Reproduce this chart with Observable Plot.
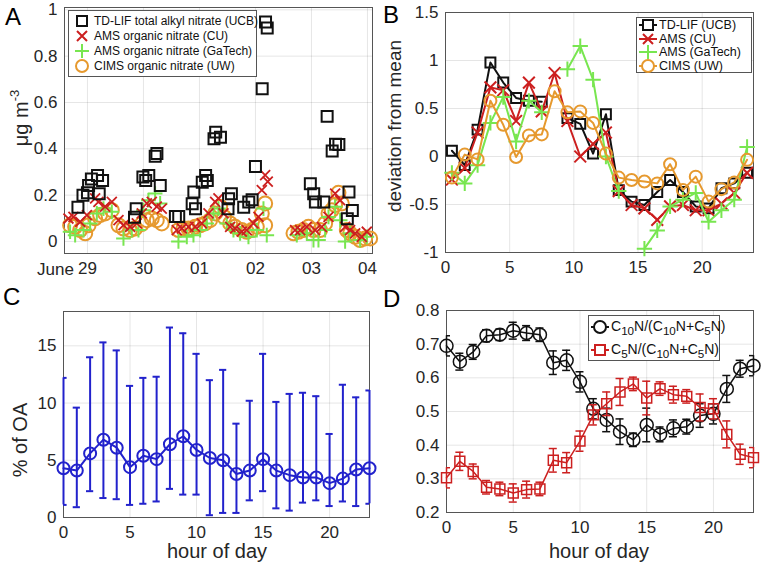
<!DOCTYPE html>
<html><head><meta charset="utf-8">
<script src="https://cdn.jsdelivr.net/npm/d3@7"></script>
<script src="https://cdn.jsdelivr.net/npm/@observablehq/plot@0.6"></script>
<style>
body{margin:0;background:#fff}
#fig{position:relative;width:762px;height:563px;font-family:"Liberation Sans",Arial,sans-serif;color:#262626;overflow:hidden;background:#fff}
.panel{position:absolute}
.txt{position:absolute;white-space:nowrap;line-height:1}
.rot{transform:translate(-50%,-50%) rotate(-90deg)}
.letter{font-size:24px;color:#000}
.leg{position:absolute;background:#fff;border:1px solid #555;box-sizing:border-box}
.leg .row{position:absolute;left:0;display:flex;align-items:center;white-space:nowrap;color:#111}
.leg svg{display:block}
</style></head>
<body><div id="fig"></div>
<script>
// ---------- Panel A: time series (days since June 29, 00:00) ----------
const dayTicks = [0,1,2,3,4,5];
const dayLabels = ["29","30","01","02","03","04"];
const tdlifT = [-0.17,-0.08,0.0,0.02,0.07,0.18,0.21,0.27,0.84,0.87,0.99,1.04,1.095,1.21,1.24,1.30,1.57,1.63,1.87,1.90,1.93,2.05,2.11,2.14,2.26,2.29,2.375,2.51,2.52,2.57,2.79,2.88,2.94,3.0,3.12,3.18,3.21,3.98,4.04,4.07,4.22,4.28,4.37,4.43,4.49,4.64,4.67,4.73];
const tdlifV = [0.148,0.199,0.21,0.242,0.27,0.285,0.206,0.263,0.105,0.141,0.278,0.263,0.285,0.368,0.38,0.242,0.108,0.108,0.163,0.213,0.141,0.256,0.285,0.263,0.443,0.472,0.45,0.141,0.184,0.206,0.148,0.17,0.18,0.324,0.659,0.947,0.922,0.249,0.206,0.17,0.17,0.54,0.39,0.42,0.419,0.098,0.213,0.134];
const amsCuT = [-0.34,-0.25,-0.13,-0.01,0.137,0.196,0.315,0.435,0.554,0.643,0.762,0.881,0.97,1.06,1.149,1.238,1.327,1.595,1.685,1.804,1.923,2.042,2.161,2.28,2.339,2.429,2.548,2.637,2.756,2.845,2.964,3.054,3.113,3.173,3.22,3.708,3.798,3.917,4.065,4.185,4.304,4.423,4.512,4.601,4.69,4.78,4.899,4.988];
const amsCuV = [0.099,0.106,0.085,0.114,0.186,0.171,0.15,0.171,0.092,0.07,0.063,0.078,0.121,0.164,0.171,0.15,0.142,0.049,0.056,0.063,0.063,0.078,0.121,0.171,0.186,0.121,0.063,0.056,0.042,0.049,0.078,0.106,0.222,0.286,0.258,0.049,0.049,0.063,0.049,0.063,0.106,0.207,0.178,0.063,0.049,0.035,0.02,0.042];
const amsGtT = [-0.31,-0.22,-0.07,0.048,0.167,0.286,0.435,0.643,0.792,0.911,1.0,1.089,1.208,1.298,1.625,1.774,1.893,2.012,2.131,2.25,2.339,2.488,2.607,2.726,2.875,3.024,3.143,3.202,3.738,3.917,4.036,4.125,4.244,4.304,4.423,4.512,4.601,4.69,4.869,4.988];
const amsGtV = [0.042,0.027,0.049,0.078,0.121,0.142,0.128,0.013,0.049,0.049,0.135,0.178,0.207,0.164,0.0,0.02,0.027,0.049,0.078,0.121,0.142,0.078,0.049,0.035,0.02,0.049,0.142,0.027,0.027,0.035,0.006,0.006,0.049,0.106,0.15,0.092,0.0,0.035,0.006,0.02];
const cimsT = [-0.31,-0.22,-0.13,-0.04,0.02,0.137,0.226,0.315,0.435,0.554,0.643,0.762,0.851,0.97,1.06,1.149,1.238,1.327,1.625,1.714,1.804,1.923,2.012,2.1,2.19,2.28,2.37,2.44,2.548,2.637,2.756,2.845,2.935,3.024,3.113,3.173,3.173,3.679,3.768,3.857,3.946,4.036,4.155,4.244,4.304,4.363,4.423,4.482,4.542,4.631,4.69,4.78,4.869,4.958,5.048];
const cimsV = [0.07,0.063,0.049,0.035,0.07,0.1,0.114,0.121,0.135,0.07,0.056,0.049,0.056,0.075,0.092,0.099,0.092,0.078,0.049,0.056,0.056,0.063,0.07,0.078,0.092,0.121,0.15,0.106,0.078,0.063,0.049,0.042,0.049,0.063,0.121,0.164,0.07,0.035,0.042,0.049,0.063,0.049,0.049,0.078,0.121,0.135,0.157,0.21,0.164,0.049,0.035,0.02,0.006,0.013,0.013];

// ---------- Panel B: diurnal deviation from mean ----------
const hoursB = [0.5,1.5,2.5,3.5,4.5,5.5,6.5,7.5,8.5,9.5,10.5,11.5,12.5,13.5,14.5,15.5,16.5,17.5,18.5,19.5,20.5,21.5,22.5,23.5];
const devTdlif = [0.06,-0.09,0.28,0.98,0.77,0.61,0.58,0.57,null,0.40,0.34,0.03,0.44,-0.35,-0.47,-0.505,-0.37,-0.245,-0.37,-0.52,-0.54,-0.33,-0.28,-0.17];
const devAmsCu = [-0.24,-0.12,0.25,0.72,0.69,0.37,0.77,0.47,0.87,0.37,0.0,0.13,0.25,-0.36,-0.505,-0.54,-0.66,-0.52,-0.505,-0.56,-0.56,-0.49,-0.38,-0.17];
const devAmsGt = [-0.17,-0.28,-0.09,0.35,0.62,0.156,0.58,0.46,null,0.91,1.15,0.80,0.0,-0.36,null,-0.96,-0.77,-0.52,-0.45,-0.38,-0.68,-0.56,-0.45,0.10];
const devCims = [-0.22,0.02,-0.03,0.58,0.33,-0.005,0.22,0.23,0.68,0.46,0.47,0.35,0.03,-0.22,-0.245,-0.26,-0.28,-0.08,-0.35,-0.21,-0.47,-0.34,-0.27,-0.035];

// ---------- Panel C: % of OA ----------
const hoursC = [0,1,2,3,4,5,6,7,8,9,10,11,12,13,14,15,16,17,18,19,20,21,22,23];
const pctMean = [4.3,4.1,5.6,6.8,6.1,4.4,5.4,5.1,6.4,7.1,5.9,5.2,5.0,3.8,4.1,5.1,4.1,3.7,3.5,3.5,3.0,3.4,4.2,4.3];
const pctHigh = [12.2,9.6,14.0,15.3,14.6,11.5,12.2,12.3,16.6,16.1,14.3,12.0,12.9,8.2,10.2,14.3,10.1,10.8,10.9,10.6,7.3,11.6,10.5,11.1];
const pctLow = [1.1,0.9,2.3,1.7,1.6,1.1,1.2,1.4,2.5,2.0,2.0,0.2,0.4,0.4,1.5,2.3,0.8,0.6,1.3,1.5,1.0,1.4,1.0,1.2];

// ---------- Panel D: fractions ----------
const hoursD = [0,1,2,3,4,5,6,7,8,9,10,11,12,13,14,15,16,17,18,19,20,21,22,23];
const c10Frac = [0.695,0.648,0.677,0.725,0.728,0.74,0.733,0.728,0.645,0.652,0.588,0.508,0.475,0.44,0.416,0.46,0.432,0.45,0.455,0.488,0.493,0.567,0.627,0.636];
const c10Err = [0.03,0.025,0.022,0.018,0.017,0.025,0.022,0.02,0.035,0.03,0.03,0.03,0.035,0.038,0.02,0.05,0.022,0.025,0.022,0.035,0.03,0.04,0.025,0.03];
const c5Frac = [0.303,0.352,0.322,0.275,0.27,0.258,0.268,0.27,0.355,0.348,0.412,0.49,0.523,0.558,0.582,0.54,0.568,0.55,0.545,0.512,0.508,0.432,0.373,0.363];
const c5Err = [0.03,0.027,0.022,0.02,0.02,0.027,0.025,0.02,0.035,0.03,0.03,0.03,0.035,0.04,0.02,0.05,0.02,0.025,0.02,0.04,0.03,0.04,0.03,0.03];

const BLACK="#111", RED="#cc1f1f", GREEN="#78e650", ORANGE="#e6992e", BLUE="#2222cc", DRED="#cc2020";
const GRID = {stroke:"#000", strokeOpacity:0.1};
const fmt = d => String(d);
const baseStyle = {fontSize:"17px", fontFamily:"Liberation Sans, Arial, sans-serif", color:"#262626", background:"transparent", overflow:"visible"};

function axes(xt, yt, xf, yf){
  return [
    Plot.gridX({ticks:xt, ...GRID}),
    Plot.gridY({ticks:yt, ...GRID}),
    Plot.frame({stroke:"#555", strokeWidth:1}),
    Plot.axisX({ticks:xt, tickSize:0, tickPadding:8, tickFormat:xf||fmt, label:null}),
    Plot.axisY({ticks:yt, tickSize:0, tickPadding:7, tickFormat:yf||fmt, label:null})
  ];
}

const fig = document.getElementById("fig");
function place(svg, left, top){
  const d = document.createElement("div");
  d.className="panel"; d.style.left=left+"px"; d.style.top=top+"px";
  d.appendChild(svg); fig.appendChild(d);
}
function text(html, x, y, cls, style){
  const d = document.createElement("div");
  d.className = "txt " + (cls||""); d.innerHTML = html;
  d.style.left = x+"px"; d.style.top = y+"px";
  if (style) d.style.cssText += style;
  fig.appendChild(d); return d;
}

// Panel A
place(Plot.plot({
  width:381, height:282, marginLeft:64, marginRight:9, marginTop:7, marginBottom:29,
  style:baseStyle,
  x:{domain:[-0.41,5.09]}, y:{domain:[-0.052,1.01]},
  marks:[
    ...axes(dayTicks,[0,0.2,0.4,0.6,0.8,1],(d)=>dayLabels[dayTicks.indexOf(d)]),
    Plot.dot(cimsV,{x:cimsT,y:cimsV,symbol:"circle",r:7,stroke:ORANGE,strokeWidth:2,fill:"none"}),
    Plot.dot(amsGtV,{x:amsGtT,y:amsGtV,symbol:"plus",r:4.8,stroke:GREEN,strokeWidth:2}),
    Plot.dot(amsCuV,{x:amsCuT,y:amsCuV,symbol:"times",r:4.6,stroke:RED,strokeWidth:1.8}),
    Plot.dot(tdlifV,{x:tdlifT,y:tdlifV,symbol:"square",r:6.2,stroke:BLACK,strokeWidth:2,fill:"none"})
  ]
}),0,0);

// Panel B
const lineB = (vals, color, symbol, r) => [
  Plot.line(vals,{x:hoursB,y:vals,stroke:color,strokeWidth:2}),
  Plot.dot(vals,{x:hoursB,y:vals,symbol,r,stroke:color,strokeWidth:2,fill:"none"})
];
place(Plot.plot({
  width:381, height:282, marginLeft:64, marginRight:9, marginTop:12, marginBottom:30,
  style:baseStyle,
  x:{domain:[0,24]}, y:{domain:[-1,1.5]},
  marks:[
    ...axes([0,5,10,15,20],[-1,-0.5,0,0.5,1,1.5]),
    ...lineB(devTdlif,BLACK,"square",5.6),
    ...lineB(devAmsCu,RED,"times",5.4),
    ...lineB(devAmsGt,GREEN,"plus",5),
    ...lineB(devCims,ORANGE,"circle",6)
  ]
}),381,0);

// Panel C
place(Plot.plot({
  width:381, height:282, marginLeft:63, marginRight:12, marginTop:29, marginBottom:47,
  style:baseStyle,
  x:{domain:[0,23]}, y:{domain:[0,18]},
  marks:[
    ...axes([0,5,10,15,20],[0,5,10,15]),
    Plot.ruleX(pctMean,{x:hoursC,y1:pctLow,y2:pctHigh,stroke:BLUE,strokeWidth:2}),
    Plot.ruleY(pctHigh,{y:pctHigh,x1:hoursC.map(h=>h-0.27),x2:hoursC.map(h=>h+0.27),stroke:BLUE,strokeWidth:2,clip:true}),
    Plot.ruleY(pctLow,{y:pctLow,x1:hoursC.map(h=>h-0.27),x2:hoursC.map(h=>h+0.27),stroke:BLUE,strokeWidth:2,clip:true}),
    Plot.line(pctMean,{x:hoursC,y:pctMean,stroke:BLUE,strokeWidth:2}),
    Plot.dot(pctMean,{x:hoursC,y:pctMean,r:6,stroke:BLUE,strokeWidth:2,fill:"none"})
  ]
}),0,282);

// Panel D
const seriesD = (vals, err, color, symbol, r) => {
  const lo = vals.map((v,i)=>v-err[i]), hi = vals.map((v,i)=>v+err[i]);
  const x1 = hoursD.map(h=>h-0.3), x2 = hoursD.map(h=>h+0.3);
  return [
    Plot.ruleX(vals,{x:hoursD,y1:lo,y2:hi,stroke:color,strokeWidth:1.5}),
    Plot.ruleY(hi,{y:hi,x1,x2,stroke:color,strokeWidth:1.5,clip:true}),
    Plot.ruleY(lo,{y:lo,x1,x2,stroke:color,strokeWidth:1.5,clip:true}),
    Plot.line(vals,{x:hoursD,y:vals,stroke:color,strokeWidth:1.5}),
    Plot.dot(vals,{x:hoursD,y:vals,symbol,r,stroke:color,strokeWidth:1.5,fill:"none"})
  ];
};
place(Plot.plot({
  width:381, height:282, marginLeft:65, marginRight:9, marginTop:28, marginBottom:52,
  style:baseStyle,
  x:{domain:[0,23]}, y:{domain:[0.2,0.8]},
  marks:[
    ...axes([0,5,10,15,20],[0.2,0.3,0.4,0.5,0.6,0.7,0.8]),
    ...seriesD(c10Frac,c10Err,BLACK,"circle",6.5),
    ...seriesD(c5Frac,c5Err,DRED,"square",5.6)
  ]
}),381,282);

// Texts
text("A",5,5,"letter");
text("B",383,3,"letter");
text("C",3,285,"letter");
text("D",383,287,"letter");
text("June",37,261,"",'font-size:17px');
text("&mu;g m<sup style='font-size:13px;vertical-align:9px'>-3</sup>",19,118,"rot",'font-size:20px');
text("deviation from mean",394,126,"rot",'font-size:19px');
text("% of OA",20,440,"rot",'font-size:20px');
text("hour of day",217,541,"",'font-size:20px;transform:translateX(-50%)');
text("hour of day",599,541,"",'font-size:20px;transform:translateX(-50%)');

// Legends
function sym(kind,color,withLine,w){
  w = w||16; const c = w/2;
  let s = `<svg width="${w}" height="14" viewBox="0 0 ${w} 14">`;
  if (withLine) s += `<line x1="0" y1="7" x2="${w}" y2="7" stroke="${color}" stroke-width="2"/>`;
  const sw = 2;
  if (kind==="square") s += `<rect x="${c-5}" y="2" width="10" height="10" fill="${withLine?'#fff':'none'}" stroke="${color}" stroke-width="${sw}"/>`;
  if (kind==="times") s += `<path d="M${c-5},2L${c+5},12M${c-5},12L${c+5},2" stroke="${color}" stroke-width="${sw}"/>`;
  if (kind==="plus") s += `<path d="M${c-7},7H${c+7}M${c},0V14" stroke="${color}" stroke-width="${sw}"/>`;
  if (kind==="circle") s += `<circle cx="${c}" cy="7" r="6" fill="${withLine?'#fff':'none'}" stroke="${color}" stroke-width="${sw}"/>`;
  return s + "</svg>";
}
function legend(x,y,w,h,rows,fs){
  const d = document.createElement("div");
  d.className="leg"; d.style.left=x+"px"; d.style.top=y+"px"; d.style.width=w+"px"; d.style.height=h+"px";
  d.innerHTML = rows.map(r=>`<div class="row" style="top:${r.top}px;left:${r.left}px;font-size:${fs}px;gap:${r.gap}px">${r.sym}<span>${r.label}</span></div>`).join("");
  fig.appendChild(d);
}
const legA = ["TD-LIF total alkyl nitrate (UCB)","AMS organic nitrate (CU)","AMS organic nitrate (GaTech)","CIMS organic nitrate (UW)"];
const legB = ["TD-LIF (UCB)","AMS (CU)","AMS (GaTech)","CIMS (UW)"];
const legD = ["C<sub>10</sub>N/(C<sub>10</sub>N+C<sub>5</sub>N)","C<sub>5</sub>N/(C<sub>10</sub>N+C<sub>5</sub>N)"];
const kinds = ["square","times","plus","circle"], cols = [BLACK,RED,GREEN,ORANGE];
legend(68,10,189,67,legA.map((l,i)=>({top:3+i*15,left:5,gap:4,sym:sym(kinds[i],cols[i],false,16),label:l})),12);
legend(636,17,116,56,legB.map((l,i)=>({top:0+i*13.5,left:2,gap:2,sym:sym(kinds[i],cols[i],true,18),label:l})),12.5);
legend(588,315,132,46,legD.map((l,i)=>({top:2+i*23,left:2,gap:2,sym:sym(i?"square":"circle",i?DRED:BLACK,true,18),label:l})),14);
</script></body></html>
